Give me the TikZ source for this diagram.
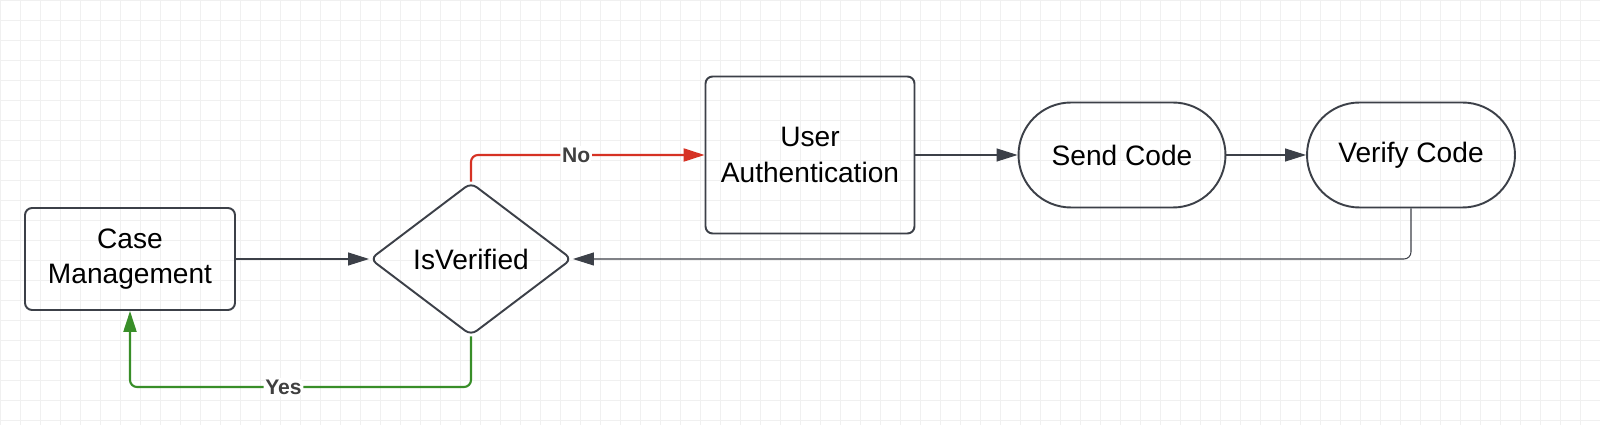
\documentclass[tikz,border=0pt]{standalone}
\usepackage{fontspec}
\setmainfont{Liberation Sans}
\usetikzlibrary{positioning,calc,shapes.geometric,arrows.meta}
\begin{document}
\begin{tikzpicture}[x=0.02cm,y=-0.02cm]
	\definecolor{edgegray}{RGB}{60,64,72}
	\definecolor{noRed}{RGB}{214,50,36}
	\definecolor{yesGreen}{RGB}{56,142,40}
	\tikzset{
		box/.style={
			draw=edgegray,
			line width=1.1pt,
			rounded corners=4pt,
			align=center,
			font=\fontsize{16}{20}\selectfont
		},
		pill/.style={
			box,
			rounded corners=1.05cm
		},
		decide/.style={
			diamond,
			draw=edgegray,
			line width=1.1pt,
			rounded corners=4pt,
			aspect=1.32,
			inner sep=0pt,
			minimum width=4.04cm,
			minimum height=3.06cm,
			font=\fontsize{16}{20}\selectfont
		},
		flow/.style={
			draw=edgegray,
			line width=0.6pt,
			-{Triangle[length=0.42cm,width=0.26cm]}
		},
		tag/.style={
			fill=white,
			inner sep=1pt,
			font=\bfseries\fontsize{12}{14}\selectfont,
			text=black!75
		}
	}
	\useasboundingbox (0,0) rectangle (1600,425);

	% ======= background grid =======
	\begin{scope}
		\clip (0,0) rectangle (1600,425);
		\fill[white] (0,0) rectangle (1600,425);
		\foreach \gx in {0,20,...,1600}
			\draw[black!6,line width=0.4pt] (\gx,0) -- (\gx,425);
		\foreach \gy in {0,20,...,420}
			\draw[black!6,line width=0.4pt] (0,\gy) -- (1600,\gy);
	\end{scope}

	% ======= nodes =======
	\node[box,minimum width=4.2cm,minimum height=2.04cm] (casemgmt) at (130,259) {Case\\Management};
	\node[decide] (isverified) at (471,259) {IsVerified};
	\node[box,minimum width=4.18cm,minimum height=3.14cm] (userauth) at (810,155) {User\\Authentication};
	\node[pill,minimum width=4.14cm,minimum height=2.1cm] (sendcode) at (1122,155) {Send Code};
	\node[pill,minimum width=4.16cm,minimum height=2.1cm] (verifycode) at (1411,155) {Verify Code};

	\coordinate (noknee) at (isverified.north |- userauth.west);
	\coordinate (backknee) at (verifycode.south |- isverified.east);
	\coordinate (yesdown) at (isverified.south |- 0,387);
	\coordinate (yesleft) at (casemgmt.south |- 0,387);

	% ======= connectors =======
	\draw[flow] (casemgmt.east) -- (casemgmt.east -| isverified.west);
	\draw[flow,draw=noRed,line width=1.2pt,rounded corners=4pt,-{Triangle[length=0.42cm,width=0.26cm,fill=noRed]}]
		(isverified.north) -- (noknee) -- node[tag,pos=0.45] {No} (userauth.west);
	\draw[flow] (userauth.east |- sendcode.west) -- (sendcode.west);
	\draw[flow] (sendcode.east) -- (verifycode.west);
	\draw[flow,rounded corners=4pt] (verifycode.south) -- (backknee) -- (isverified.east);
	\draw[flow,draw=yesGreen,line width=1.2pt,rounded corners=4pt,-{Triangle[length=0.42cm,width=0.26cm,fill=yesGreen]}]
		(isverified.south) -- (yesdown) -- node[tag,pos=0.55] {Yes} (yesleft) -- (casemgmt.south);
\end{tikzpicture}
\end{document}
